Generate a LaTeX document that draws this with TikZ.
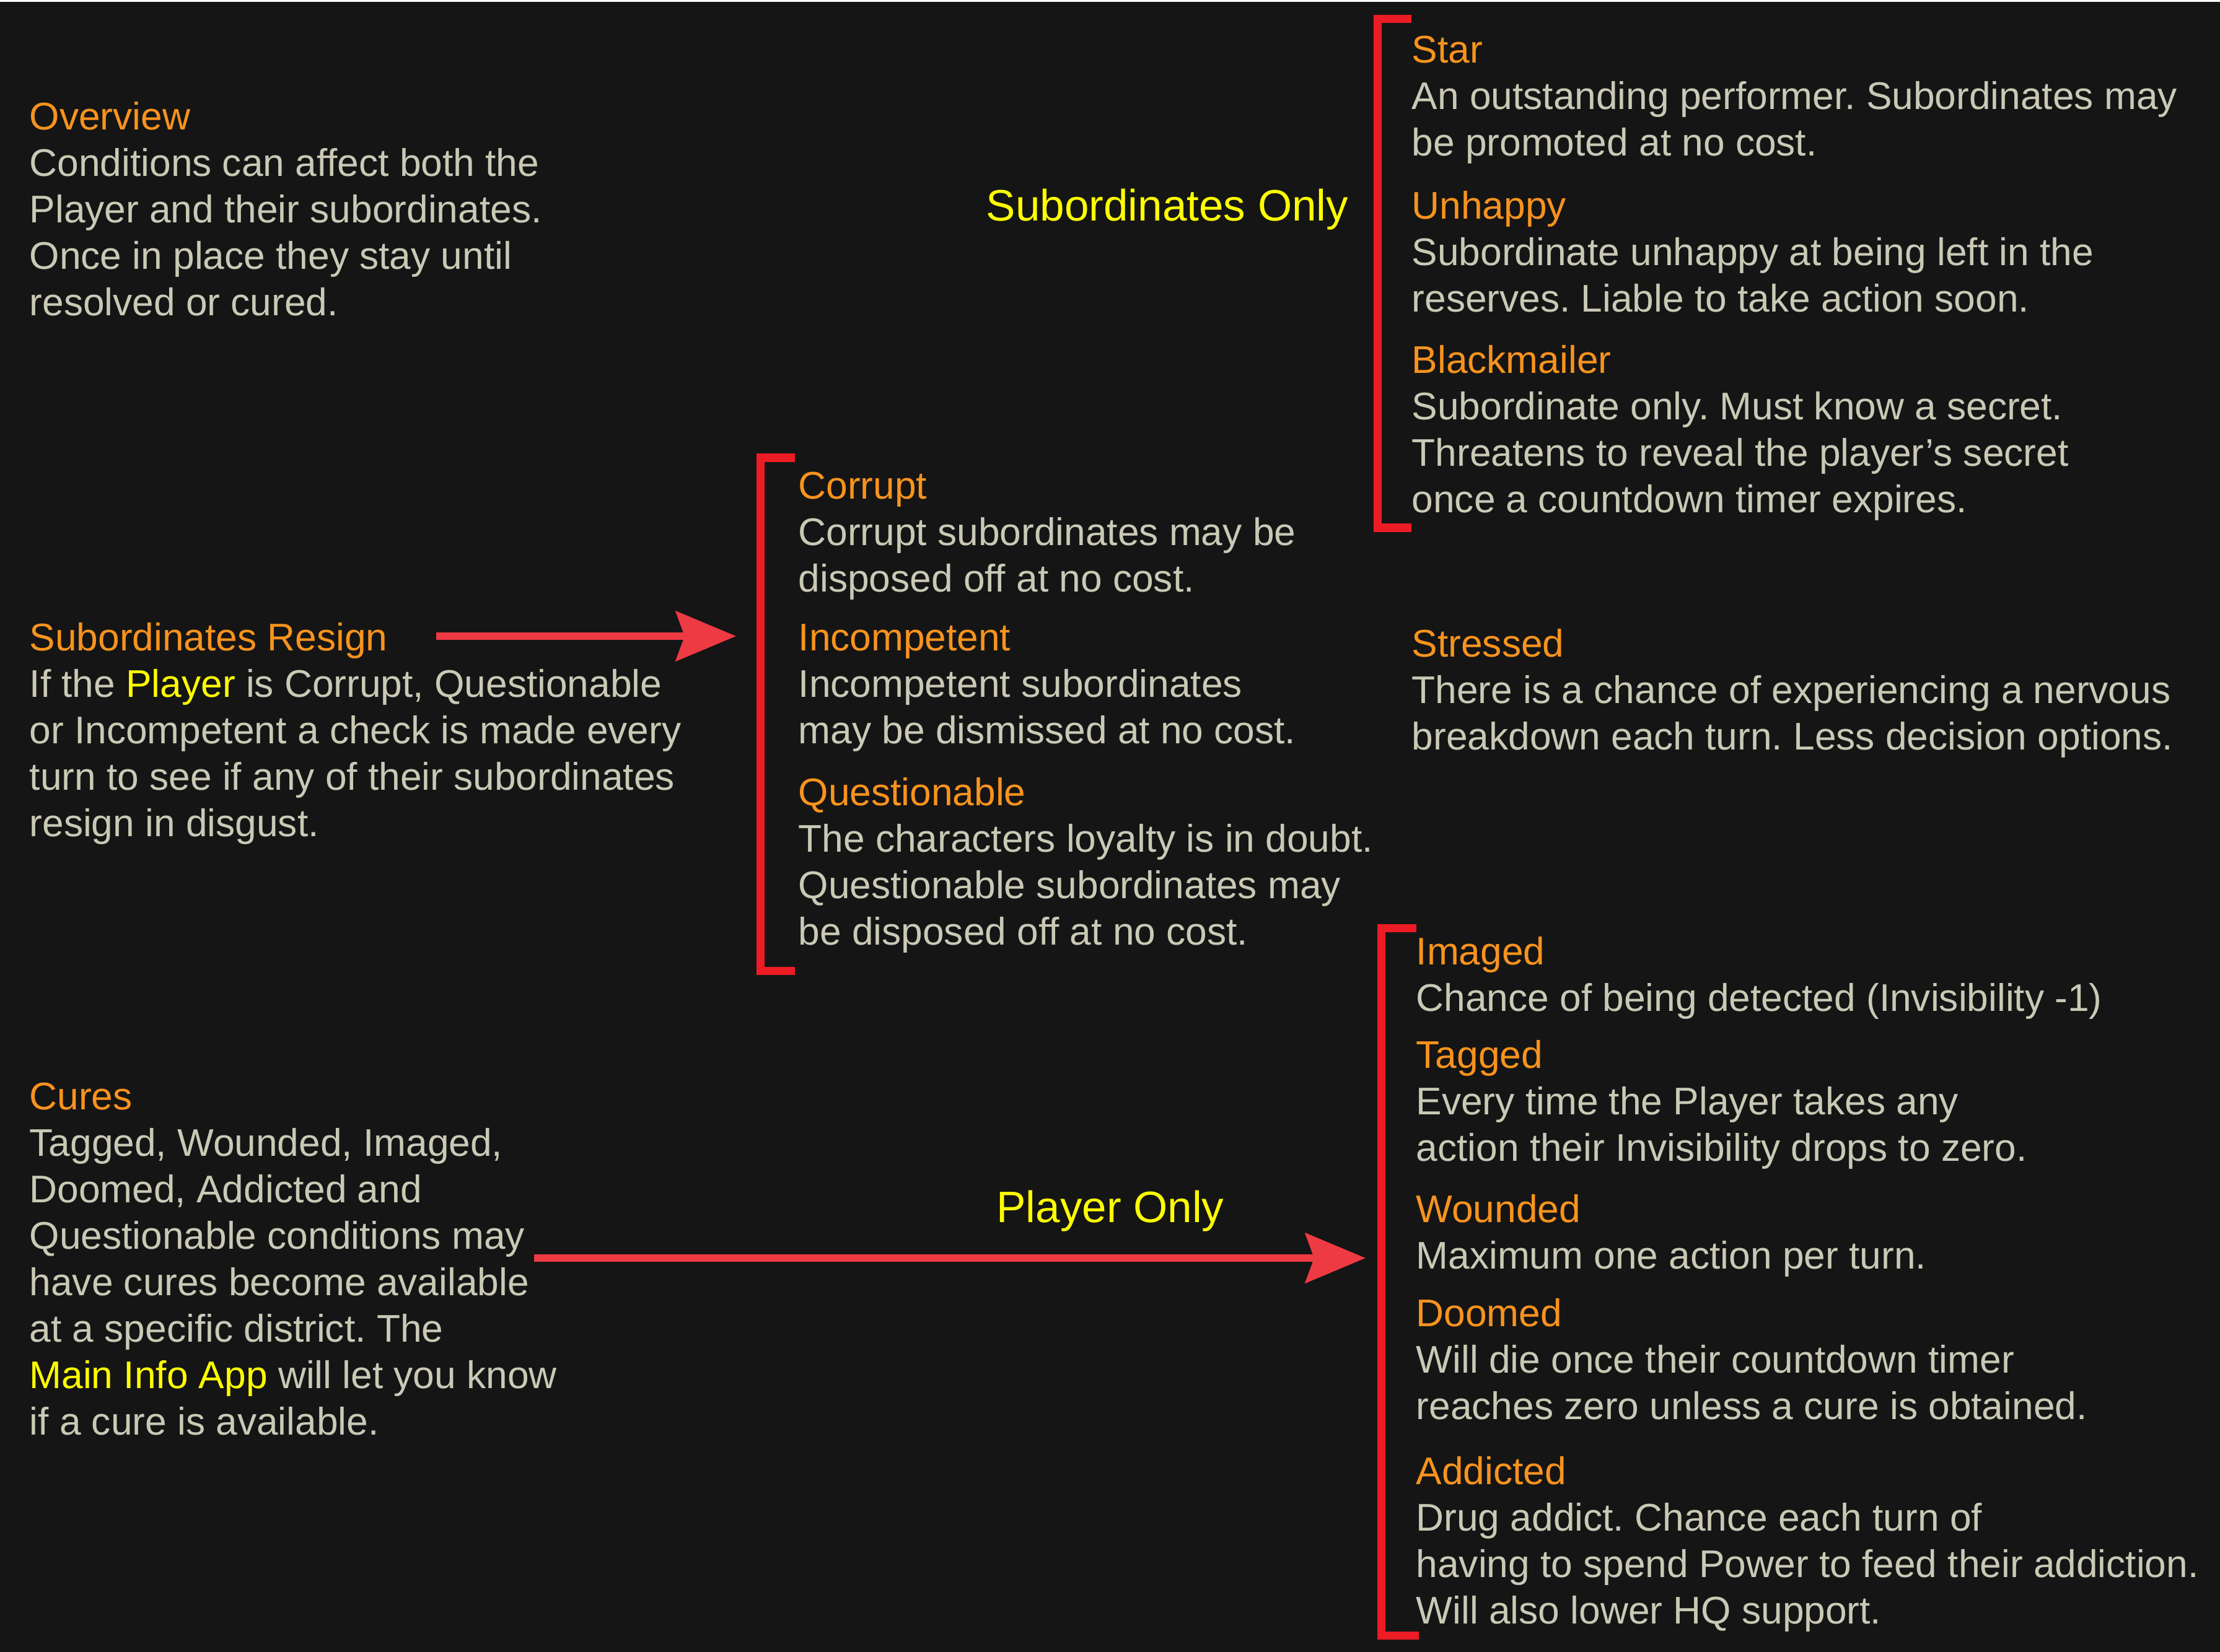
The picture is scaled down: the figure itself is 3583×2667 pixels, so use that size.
\documentclass[tikz,border=0pt]{standalone}
\usepackage{fontspec}
\setmainfont{Liberation Sans}
\usepackage{tikz}
\usetikzlibrary{arrows.meta,positioning}
\definecolor{bgdark}{HTML}{151515}
\definecolor{bodytext}{HTML}{C9C9B6}
\definecolor{headorange}{HTML}{F7931E}
\definecolor{labelyellow}{HTML}{FFFF00}
\definecolor{bracketred}{HTML}{ED1C24}
\definecolor{arrowred}{HTML}{EE3A43}
\newcommand{\bodyfont}{\fontsize{17.7pt}{21.34pt}\selectfont}
\newcommand{\labelfont}{\fontsize{20.2pt}{24pt}\selectfont}
\newcommand{\condname}[1]{\textcolor{headorange}{#1}}
\newcommand{\hilite}[1]{\textcolor{labelyellow}{#1}}
\frenchspacing
\tikzset{
    %Define standard arrow tip
    >={Stealth[length=0.97cm,width=0.8cm,inset=0.14cm]},
    %Define style for text blocks
    condition/.style={
           anchor=north west,
           inner sep=0pt,
           align=left,
           text=bodytext,
           font=\bodyfont},
    % Define style for the yellow labels
    scopelabel/.style={
           anchor=base,
           inner sep=0pt,
           text=labelyellow,
           font=\labelfont},
    % Define bracket style
    bracket/.style={
           draw=bracketred,
           line width=0.13cm,
           line join=miter},
    % Define arrow style
    pil/.style={
           ->,
           draw=arrowred,
           line width=0.12cm}
}
\begin{document}
\begin{tikzpicture}[x=0.01cm,y=-0.01cm]
\useasboundingbox (0,0) rectangle (3583,2667);
\fill[bgdark] (0,0) rectangle (3583,2667);
\fill[white] (0,0) rectangle (3583,3);

% left column
\node[condition] (overview) at (47,164) {\condname{Overview}\\Conditions can affect both the\\Player and their subordinates.\\Once in place they stay until\\resolved or cured.};
\node[condition] (resign) at (47,1005) {\condname{Subordinates Resign}\\If the \hilite{Player} is Corrupt, Questionable\\or Incompetent a check is made every\\turn to see if any of their subordinates\\resign in disgust.};
\node[condition] (cures) at (47,1747) {\condname{Cures}\\Tagged, Wounded, Imaged,\\Doomed, Addicted and\\Questionable conditions may\\have cures become available\\at a specific district. The\\\hilite{Main Info App} will let you know\\if a cure is available.};

% middle column
\node[condition] (corrupt) at (1288,761) {\condname{Corrupt}\\Corrupt subordinates may be\\disposed off at no cost.};
\node[condition] (incompetent) at (1288,1007) {\condname{Incompetent}\\Incompetent subordinates\\may be dismissed at no cost.};
\node[condition] (questionable) at (1288,1255) {\condname{Questionable}\\The characters loyalty is in doubt.\\Questionable subordinates may\\be disposed off at no cost.};

% right column
\node[condition] (star) at (2278,57) {\condname{Star}\\An outstanding performer. Subordinates may\\be promoted at no cost.};
\node[condition] (unhappy) at (2278,308) {\condname{Unhappy}\\Subordinate unhappy at being left in the\\reserves. Liable to take action soon.};
\node[condition] (blackmailer) at (2278,557) {\condname{Blackmailer}\\Subordinate only. Must know a secret.\\Threatens to reveal the player’s secret\\once a countdown timer expires.};
\node[condition] (stressed) at (2278,1015) {\condname{Stressed}\\There is a chance of experiencing a nervous\\breakdown each turn. Less decision options.};
\node[condition] (imaged) at (2285,1512) {\condname{Imaged}\\Chance of being detected (Invisibility -1)};
\node[condition] (tagged) at (2285,1679) {\condname{Tagged}\\Every time the Player takes any\\action their Invisibility drops to zero.};
\node[condition] (wounded) at (2285,1928) {\condname{Wounded}\\Maximum one action per turn.};
\node[condition] (doomed) at (2285,2096) {\condname{Doomed}\\Will die once their countdown timer\\reaches zero unless a cure is obtained.};
\node[condition] (addicted) at (2285,2351) {\condname{Addicted}\\Drug addict. Chance each turn of\\having to spend Power to feed their addiction.\\Will also lower HQ support.};

\node[scopelabel] (subonly) at (1884,357) {Subordinates Only};
\node[scopelabel] (playeronly) at (1792,1973) {Player Only};

% brackets
\draw[bracket] (2278,31) -| (2223,852) -- (2278,852);
\draw[bracket] (1283,739) -| (1227,1567) -- (1283,1567);
\draw[bracket] (2286,1498) -| (2229,2640) -- (2290,2640);

% arrows
\coordinate (resignfrom) at (704,1027);
\coordinate (resignto) at (1188,1027);
\coordinate (curesfrom) at (862,2031);
\coordinate (curesto) at (2204,2031);
\draw[pil] (resignfrom) -- (resignto);
\draw[pil] (curesfrom) -- (curesto);
\end{tikzpicture}
\end{document}
